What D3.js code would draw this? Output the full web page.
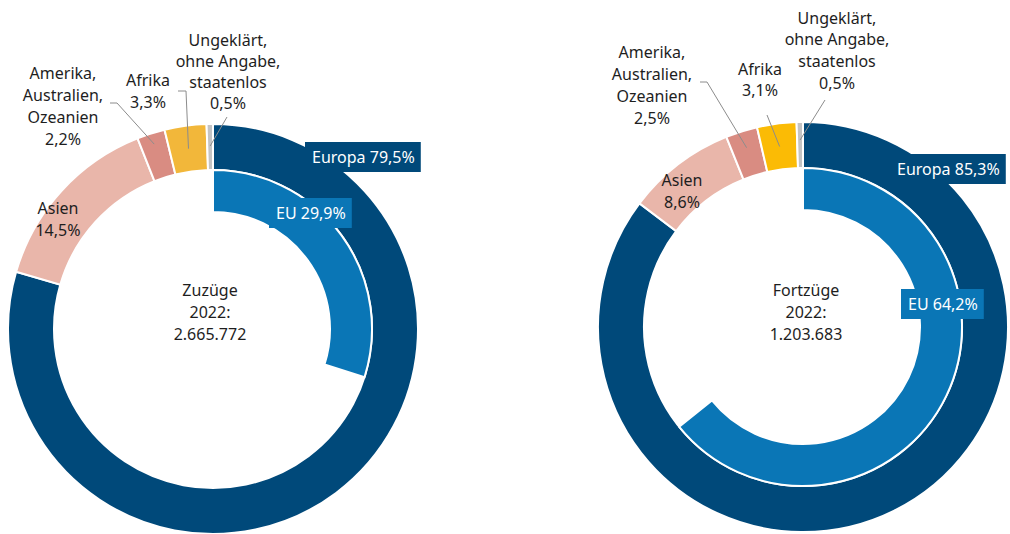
<!DOCTYPE html>
<html>
<head>
<meta charset="utf-8">
<script src="https://cdn.jsdelivr.net/npm/d3@7"></script>
<style>
  body { margin: 0; background: #fff; }
  svg text { font-family: "Noto Sans", sans-serif; font-size: 16px; fill: #1e1e1e; }
</style>
</head>
<body>
<div id="chart"></div>
<script>
// segments of the outer ring, clockwise from 12 o'clock
var regions = ["Europa", "Asien", "Amerika, Australien, Ozeanien", "Afrika", "Ungeklärt, ohne Angabe, staatenlos"];
var zuzuegeShares = [79.5, 14.5, 2.2, 3.3, 0.5];
var fortzuegeShares = [85.3, 8.6, 2.5, 3.1, 0.5];
var euShares = [29.9, 64.2];
var titles = ["Zuzüge", "Fortzüge"];
var totals = ["2.665.772", "1.203.683"];

var fmt = function (v) { return d3.format(".1f")(v).replace(".", ","); };

var svgWidth = 1010;
var svgHeight = 534;

var svg = d3.select("#chart").append("svg")
    .attr("width", svgWidth)
    .attr("height", svgHeight);

// outer ring / inner EU ring radii
var rOuter = 205, rOuterInner = 159, rEuOuter = 159, rEuInner = 117;

var angle = d3.scaleLinear().domain([0, 100]).range([0, 2 * Math.PI]);

var charts = [
    {
        cx: 213, cy: 329, shares: zuzuegeShares, eu: euShares[0],
        title: titles[0], total: totals[0],
        colors: ["#00497a", "#e9b6aa", "#d98c82", "#f2b73a", "#c4c4c4"],
        euColor: "#0a76b6",
        centerX: 210,
        europaLabel: { x: 312, y: 157 },
        euLabel: { x: 276, y: 213 },
        // label text: center x, first line y, line step
        labels: [
            null,
            { x: 58, y: 208, step: 22, lines: ["Asien"] },
            { x: 63, y: 73, step: 22, lines: ["Amerika,", "Australien,", "Ozeanien"] },
            { x: 148, y: 80, step: 22, lines: ["Afrika"] },
            { x: 228, y: 40, step: 21, lines: ["Ungeklärt,", "ohne Angabe,", "staatenlos"] }
        ],
        leaders: [
            { idx: 2, pts: [[110, 103], [117, 103]], r: 194 },
            { idx: 3, pts: [[178, 91], [186, 91]], r: 182 },
            { idx: 4, pts: [[227, 117]], r: 183 }
        ]
    },
    {
        cx: 803, cy: 327, shares: fortzuegeShares, eu: euShares[1],
        title: titles[1], total: totals[1],
        colors: ["#00497a", "#e9b6aa", "#d98c82", "#fbbb05", "#c4c4c4"],
        euColor: "#0a76b6",
        centerX: 806,
        europaLabel: { x: 897, y: 169 },
        euLabel: { x: 908, y: 304 },
        labels: [
            null,
            { x: 682, y: 180, step: 22, lines: ["Asien"] },
            { x: 652, y: 52, step: 22, lines: ["Amerika,", "Australien,", "Ozeanien"] },
            { x: 760, y: 69, step: 21, lines: ["Afrika"] },
            { x: 837, y: 18, step: 21.7, lines: ["Ungeklärt,", "ohne Angabe,", "staatenlos"] }
        ],
        leaders: [
            { idx: 2, pts: [[700, 82], [707, 82]], r: 188 },
            { idx: 3, pts: [[767, 115]], r: 182 },
            { idx: 4, pts: [[825, 100]], r: 187 }
        ]
    }
];

var pie = d3.pie().sort(null).value(function (d) { return d; });

charts.forEach(function (c) {
    var g = svg.append("g");
    var ringGroup = g.append("g").attr("transform", "translate(" + c.cx + "," + c.cy + ")");

    var arcs = pie(c.shares);
    var outerArc = d3.arc().innerRadius(rOuterInner).outerRadius(rOuter);

    ringGroup.selectAll("path.seg")
        .data(arcs)
        .enter()
        .append("path")
        .attr("class", "seg")
        .attr("d", outerArc)
        .attr("fill", function (d, i) { return c.colors[i]; })
        .attr("stroke", "#fff")
        .attr("stroke-width", 2);

    // EU inner arc
    var euArc = d3.arc()
        .innerRadius(rEuInner)
        .outerRadius(rEuOuter)
        .startAngle(0)
        .endAngle(angle(c.eu));
    ringGroup.append("path")
        .attr("d", euArc())
        .attr("fill", c.euColor)
        .attr("stroke", "#fff")
        .attr("stroke-width", 2);

    // leader lines for the small segments
    c.leaders.forEach(function (l) {
        var a = arcs[l.idx];
        var mid = (a.startAngle + a.endAngle) / 2;
        var end = [c.cx + l.r * Math.sin(mid), c.cy - l.r * Math.cos(mid)];
        var pts = l.pts.concat([end]);
        g.append("path")
            .attr("d", d3.line()(pts))
            .attr("fill", "none")
            .attr("stroke", "#8c8c8c")
            .attr("stroke-width", 1);
    });

    // outside labels
    c.labels.forEach(function (lab, i) {
        if (!lab) return;
        var lines = lab.lines.concat([fmt(c.shares[i]) + "%"]);
        var t = g.append("text").attr("text-anchor", "middle");
        lines.forEach(function (s, k) {
            t.append("tspan")
                .attr("x", lab.x)
                .attr("y", lab.y + k * lab.step)
                .attr("dy", "0.35em")
                .text(s);
        });
    });

    // boxed labels for Europa and EU
    function boxLabel(pos, text, fill) {
        var lg = g.append("g");
        var rect = lg.append("rect").attr("fill", fill);
        var t = lg.append("text")
            .attr("x", pos.x)
            .attr("y", pos.y)
            .attr("dy", "0.35em")
            .style("fill", "#fff")
            .text(text);
        var bb = t.node().getBBox();
        rect.attr("x", bb.x - 7)
            .attr("y", pos.y - 15)
            .attr("width", bb.width + 13)
            .attr("height", 30);
    }
    boxLabel(c.europaLabel, "Europa " + fmt(c.shares[0]) + "%", c.colors[0]);
    boxLabel(c.euLabel, "EU " + fmt(c.eu) + "%", c.euColor);

    // center text
    var ct = g.append("text").attr("text-anchor", "middle");
    [c.title, "2022:", c.total].forEach(function (s, k) {
        ct.append("tspan")
            .attr("x", c.centerX)
            .attr("y", 290 + k * 22)
            .attr("dy", "0.35em")
            .text(s);
    });
});
</script>
</body>
</html>
